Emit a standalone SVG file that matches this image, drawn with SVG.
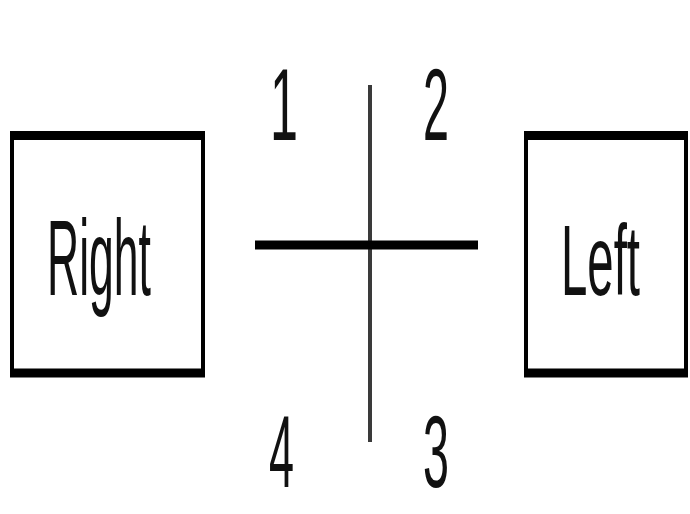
<svg xmlns="http://www.w3.org/2000/svg" width="690" height="514" viewBox="0 0 690 514">
<style>
.box{fill:#fff;stroke:#000;stroke-width:4}
.edge{stroke:#000;stroke-width:9}
.lbl{font-family:"Liberation Sans",Arial,sans-serif;fill:#111}
</style>
<rect width="690" height="514" fill="#fff"/>
<g id="right">
<rect class="box" x="12" y="135" width="191" height="238"/>
<line class="edge" x1="10" y1="135.5" x2="205" y2="135.5"/>
<line class="edge" x1="10" y1="373" x2="205" y2="373"/>
<text class="lbl" x="47" y="295" font-size="108" textLength="104" lengthAdjust="spacingAndGlyphs">Right</text>
</g>
<g id="left">
<rect class="box" x="526" y="135" width="160" height="238"/>
<line class="edge" x1="524" y1="135.5" x2="688" y2="135.5"/>
<line class="edge" x1="524" y1="373" x2="688" y2="373"/>
<text class="lbl" x="561" y="295" font-size="100" textLength="79" lengthAdjust="spacingAndGlyphs">Left</text>
</g>
<g id="connectors">
<line x1="370" y1="85" x2="370" y2="442" stroke="#3a3a3a" stroke-width="4"/>
<line x1="255" y1="245" x2="478" y2="245" stroke="#000" stroke-width="9"/>
</g>
<g id="labels">
<text class="lbl" x="270" y="140" font-size="102" textLength="28" lengthAdjust="spacingAndGlyphs">1</text>
<text class="lbl" x="423" y="140" font-size="102" textLength="26" lengthAdjust="spacingAndGlyphs">2</text>
<text class="lbl" x="423" y="487" font-size="102" textLength="26" lengthAdjust="spacingAndGlyphs">3</text>
<text class="lbl" x="269" y="487" font-size="102" textLength="25" lengthAdjust="spacingAndGlyphs">4</text>
</g>
</svg>
